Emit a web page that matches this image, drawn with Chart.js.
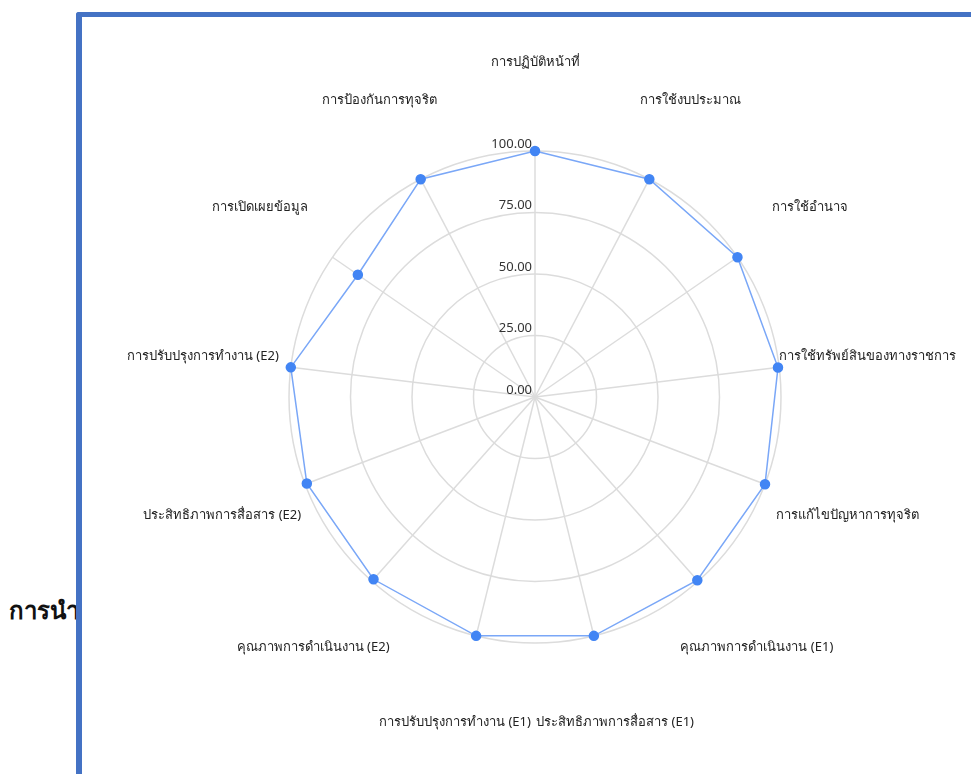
<!DOCTYPE html>
<html>
<head>
<meta charset="utf-8">
<script src="https://cdn.jsdelivr.net/npm/chart.js@4.4.1/dist/chart.umd.min.js"></script>
<style>
  html, body { margin: 0; padding: 0; background: #fff; overflow: hidden; }
  body { width: 971px; height: 774px; position: relative; font-family: "Noto Sans", sans-serif; }
  #side {
    position: absolute; left: 9px; top: 591px;
    font-size: 24px; font-weight: bold; color: #111; white-space: nowrap;
  }
  #box {
    position: absolute; left: 76px; top: 12px; width: 960px; height: 800px;
    border-left: 6px solid #4472C4; border-top: 5px solid #4472C4;
    border-top-left-radius: 3px; background: #fff;
  }
  #wrap { position: absolute; left: 0; top: 0; width: 889px; height: 757px; }
</style>
</head>
<body>
<div id="side">การนำ</div>
<div id="box">
  <div id="wrap"><canvas id="radar"></canvas></div>
</div>
<script>
const categories = [
  "การปฏิบัติหน้าที่",
  "การใช้งบประมาณ",
  "การใช้อำนาจ",
  "การใช้ทรัพย์สินของทางราชการ",
  "การแก้ไขปัญหาการทุจริต",
  "คุณภาพการดำเนินงาน (E1)",
  "ประสิทธิภาพการสื่อสาร (E1)",
  "การปรับปรุงการทำงาน (E1)",
  "คุณภาพการดำเนินงาน (E2)",
  "ประสิทธิภาพการสื่อสาร (E2)",
  "การปรับปรุงการทำงาน (E2)",
  "การเปิดเผยข้อมูล",
  "การป้องกันการทุจริต"
];
const scores = [100, 100, 100, 99.5, 100, 99.5, 100, 100, 99, 99.2, 100, 87.5, 100];
const tickValues = [0, 25, 50, 75, 100];

// labels + tick texts drawn off the scale's own geometry
const labelPlugin = {
  id: "labelPlugin",
  afterDraw(chart) {
    const scale = chart.scales.r;
    const ctx = chart.ctx;
    ctx.save();
    ctx.fillStyle = "#222";
    ctx.font = "13px 'Noto Sans', sans-serif";
    ctx.textAlign = "center";
    ctx.textBaseline = "middle";
    categories.forEach((name, i) => {
      const p = scale.getPointPosition(i, scale.drawingArea * 1.36);
      ctx.fillText(name, p.x, p.y);
    });
    ctx.fillStyle = "#333";
    ctx.font = "13px 'Noto Sans', sans-serif";
    ctx.textAlign = "right";
    tickValues.forEach((v) => {
      const d = scale.getDistanceFromCenterForValue(v);
      ctx.fillText(v.toFixed(2), scale.xCenter - 3, scale.yCenter - d - 7);
    });
    ctx.restore();
  }
};

new Chart(document.getElementById("radar"), {
  type: "radar",
  data: {
    labels: categories,
    datasets: [{
      label: "คะแนน",
      data: scores,
      borderColor: "#7aa7f7",
      borderWidth: 1.5,
      backgroundColor: "#4285F4",
      pointBackgroundColor: "#4285F4",
      pointBorderColor: "#4285F4",
      pointRadius: 4.5,
      fill: false
    }]
  },
  options: {
    responsive: true,
    maintainAspectRatio: false,
    animation: false,
    layout: { padding: { left: 207, right: 190, top: 134, bottom: 131 } },
    plugins: { legend: { display: false }, tooltip: { enabled: false } },
    scales: {
      r: {
        min: 0,
        max: 100,
        ticks: { display: false, stepSize: 25 },
        pointLabels: { display: false },
        grid: { circular: true, color: "#dcdcdc", lineWidth: 1.5 },
        angleLines: { color: "#dcdcdc", lineWidth: 1.5 }
      }
    }
  },
  plugins: [labelPlugin]
});
</script>
</body>
</html>
